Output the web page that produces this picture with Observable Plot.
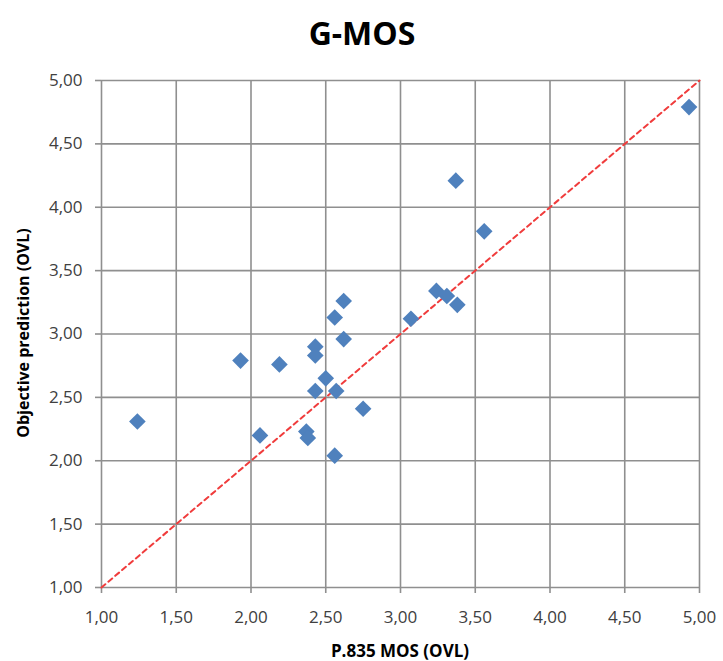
<!DOCTYPE html>
<html><head><meta charset="utf-8">
<script src="https://cdn.jsdelivr.net/npm/d3@7"></script>
<script src="https://cdn.jsdelivr.net/npm/@observablehq/plot@0.6"></script>
<style>body{margin:0;background:#fff}</style>
</head><body><div id="chart"></div>
<script>
const chartTitle = "G-MOS";
const xLabel = "P.835 MOS (OVL)";
const yLabel = "Objective prediction (OVL)";
const subjectiveMOS = [1.24, 1.93, 2.19, 2.06, 2.37, 2.38, 2.43, 2.43, 2.43, 2.50, 2.57, 2.56, 2.75, 2.56, 2.62, 2.62, 3.37, 3.56, 3.07, 3.24, 3.31, 3.38, 4.93];
const objectivePred = [2.31, 2.79, 2.76, 2.20, 2.23, 2.18, 2.90, 2.83, 2.55, 2.65, 2.55, 2.04, 2.41, 3.13, 3.26, 2.96, 4.21, 3.81, 3.12, 3.34, 3.30, 3.23, 4.79];
const axisTicks = [1, 1.5, 2, 2.5, 3, 3.5, 4, 4.5, 5];
const identityLine = [1, 5];

const points = subjectiveMOS.map((x, i) => ({x, y: objectivePred[i]}));
const diag = identityLine.map(v => ({v}));
const fmt = d => d.toFixed(2).replace(".", ",");
const gridColor = "#8f8f8f";

const chart = Plot.plot({
  width: 723, height: 661,
  marginLeft: 101, marginRight: 24, marginTop: 80, marginBottom: 74,
  style: {fontFamily: "'Open Sans', sans-serif", fontSize: "17px", color: "#404040", background: "#fff"},
  x: {domain: [1, 5], label: null},
  y: {domain: [1, 5], label: null},
  marks: [
    Plot.gridX(axisTicks, {stroke: gridColor, strokeOpacity: 1, strokeWidth: 1.6}),
    Plot.gridY(axisTicks, {stroke: gridColor, strokeOpacity: 1, strokeWidth: 1.6}),
    Plot.axisX(axisTicks, {tickFormat: fmt, tickSize: 6, tickPadding: 17, stroke: gridColor, strokeWidth: 1.6, fill: "#404040", label: null}),
    Plot.axisY(axisTicks, {tickFormat: fmt, tickSize: 6, tickPadding: 13, stroke: gridColor, strokeWidth: 1.6, fill: "#404040", label: null}),
    Plot.line(diag, {x: "v", y: "v", stroke: "#f03c3c", strokeWidth: 2, strokeDasharray: "5,4"}),
    Plot.dot(points, {x: "x", y: "y", symbol: "diamond2", r: 7.5, fill: "#4F81BD", stroke: "none"})
  ]
});

const svg = d3.select(chart);
svg.append("text")
  .attr("x", 362).attr("y", 32)
  .attr("text-anchor", "middle").attr("dominant-baseline", "central")
  .attr("font-family", "'Open Sans', sans-serif").attr("font-weight", "bold")
  .attr("font-size", 32).attr("fill", "#000")
  .text(chartTitle);
svg.append("text")
  .attr("x", 400).attr("y", 650)
  .attr("text-anchor", "middle").attr("dominant-baseline", "central")
  .attr("font-family", "'Open Sans', sans-serif").attr("font-weight", "bold")
  .attr("font-size", 17).attr("fill", "#000")
  .text(xLabel);
svg.append("text")
  .attr("transform", "translate(23,333) rotate(-90)")
  .attr("text-anchor", "middle").attr("dominant-baseline", "central")
  .attr("font-family", "'Open Sans', sans-serif").attr("font-weight", "bold")
  .attr("font-size", 16).attr("fill", "#000")
  .text(yLabel);

document.getElementById("chart").appendChild(chart);
</script>
</body></html>
